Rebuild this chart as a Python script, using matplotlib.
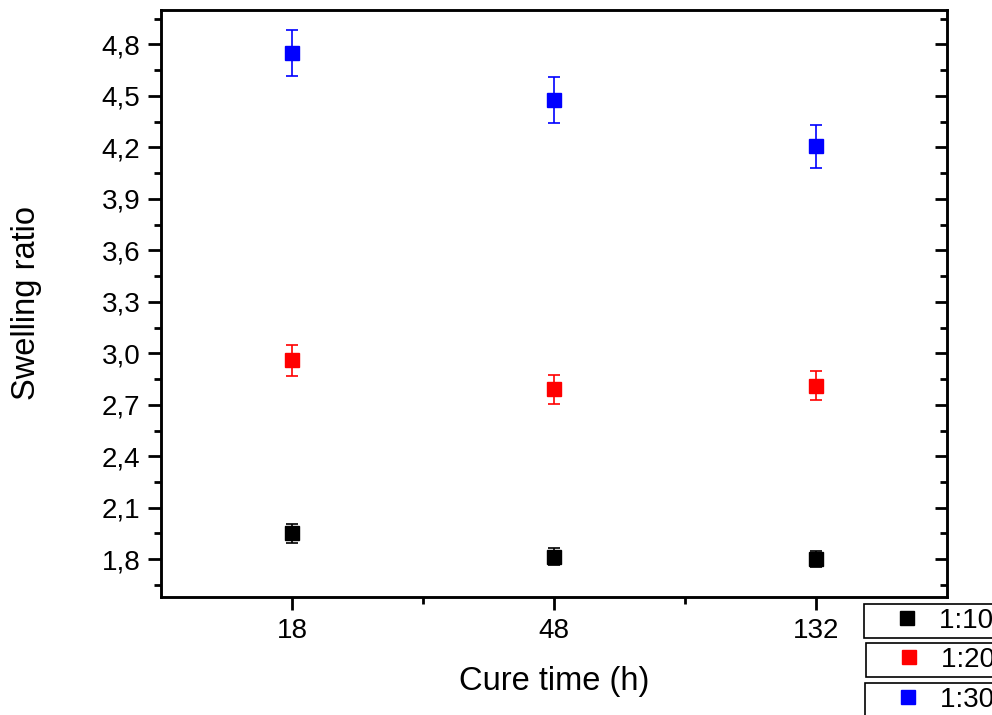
import matplotlib
matplotlib.use("Agg")
import matplotlib.pyplot as plt
from matplotlib.ticker import MultipleLocator, FuncFormatter, FixedLocator

plt.rcParams['font.family'] = ['Liberation Sans', 'DejaVu Sans']

cure_times = ["18", "48", "132"]
series_labels = ["1:10", "1:20", "1:30"]
series_colors = ["black", "red", "blue"]
values_1_10 = [1.95, 1.815, 1.80]
errors_1_10 = [0.058, 0.05, 0.047]
values_1_20 = [2.96, 2.79, 2.81]
errors_1_20 = [0.09, 0.083, 0.085]
values_1_30 = [4.75, 4.475, 4.205]
errors_1_30 = [0.135, 0.135, 0.125]

W, H = 992, 715
fig = plt.figure(figsize=(W / 100, H / 100), dpi=100)
ax = fig.add_axes([161 / W, 1 - 597 / H, (947 - 161) / W, (597 - 10) / H])

x = list(range(len(cure_times)))
containers = []
for vals, errs, col in zip([values_1_10, values_1_20, values_1_30],
                           [errors_1_10, errors_1_20, errors_1_30],
                           series_colors):
    eb = ax.errorbar(x, vals, yerr=errs, fmt='s', color=col, ecolor=col,
                     markersize=9.5, elinewidth=1.2, capsize=4.2, capthick=1.2,
                     linestyle='none')
    containers.append(eb)

ax.set_xlim(-0.5, 2.5)
ax.set_ylim(1.58, 5.0)

ax.xaxis.set_major_locator(FixedLocator(x))
ax.set_xticklabels(cure_times)
ax.xaxis.set_minor_locator(FixedLocator([0.5, 1.5]))
ax.yaxis.set_major_locator(MultipleLocator(0.3))
ax.yaxis.set_minor_locator(MultipleLocator(0.15))
ax.yaxis.set_major_formatter(FuncFormatter(lambda v, p: f"{v:.1f}".replace('.', ',')))

for s in ax.spines.values():
    s.set_linewidth(1.8)

ax.tick_params(axis='both', which='major', labelsize=20, width=2, length=9.5, pad=5.5)
ax.tick_params(axis='both', which='minor', width=2, length=5)
ax.tick_params(axis='x', which='both', direction='out', top=False)
ax.tick_params(axis='y', which='both', direction='out', left=True, right=False)

# right-side inward ticks
ax2 = ax.twinx()
ax2.set_ylim(ax.get_ylim())
ax2.yaxis.set_major_locator(MultipleLocator(0.3))
ax2.yaxis.set_minor_locator(MultipleLocator(0.15))
ax2.tick_params(axis='y', which='major', direction='in', width=2, length=9, labelright=False)
ax2.tick_params(axis='y', which='minor', direction='in', width=2, length=5)
for s in ax2.spines.values():
    s.set_linewidth(1.8)

ax.set_xlabel("Cure time (h)", fontsize=23.5)
ax.set_ylabel("Swelling ratio", fontsize=23.5)
ax.xaxis.set_label_coords(0.5, -0.118)
ax.yaxis.set_label_coords(-0.152, 0.5)

# three separate boxed legend entries at lower right
legend_tops = [604, 643, 683]
legend_lefts = [864, 866, 865]
for eb, lab, top, left in zip(containers, series_labels, legend_tops, legend_lefts):
    leg = fig.legend(handles=[eb.lines[0]], labels=[lab + "      "],
                     loc='upper left', bbox_to_anchor=(left / W, 1 - top / H),
                     bbox_transform=fig.transFigure, borderaxespad=0,
                     fontsize=20, frameon=True, fancybox=False, framealpha=1,
                     edgecolor='black', borderpad=0.15, handlelength=2.8,
                     handletextpad=-0.25, numpoints=1)
    leg.get_frame().set_linewidth(1.2)

fig.savefig("out.png", dpi=100)
